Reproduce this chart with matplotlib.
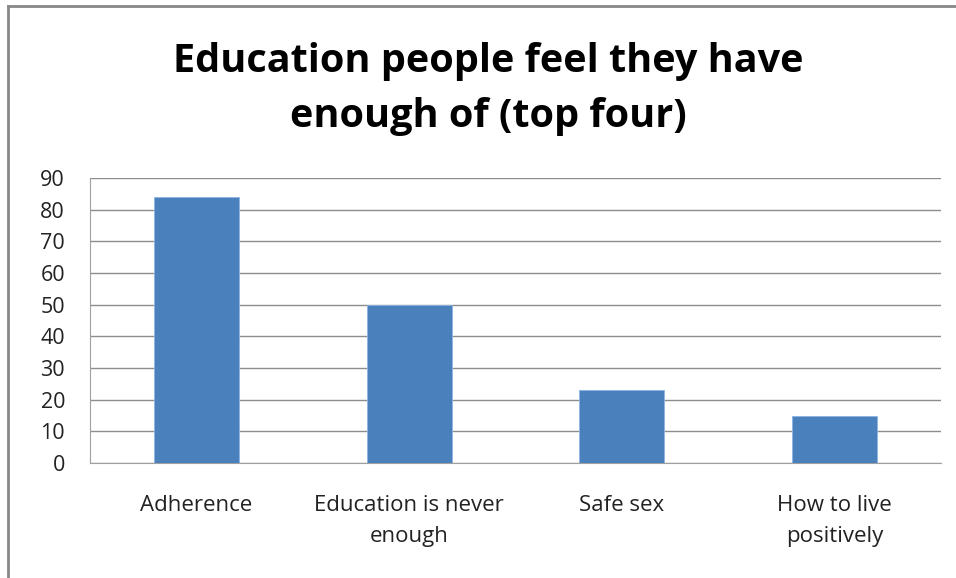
import matplotlib
matplotlib.use("Agg")
import matplotlib.pyplot as plt
from matplotlib.lines import Line2D

categories = ["Adherence", "Education is never\nenough", "Safe sex", "How to live\npositively"]
values = [84, 50, 23, 15]
yticks = [0, 10, 20, 30, 40, 50, 60, 70, 80, 90]
title = "Education people feel they have\nenough of (top four)"

plt.rcParams['font.family'] = ['Open Sans', 'DejaVu Sans']

W, H = 956, 578
fig = plt.figure(figsize=(W / 100, H / 100), dpi=100)
ax = fig.add_axes([90 / W, 1 - 463 / H, (941 - 90) / W, (463 - 178) / H])

x = range(len(categories))
ax.bar(x, values, width=0.4, color="#4A81BD", edgecolor="#8EB4E3", linewidth=0.6, zorder=3)
ax.set_xlim(-0.5, len(categories) - 0.5)
ax.set_ylim(0, 90)
ax.set_yticks(yticks)
ax.set_yticklabels([str(v) for v in yticks], fontsize=15.5, color="#222222")
ax.set_xticks(list(x))
ax.set_xticklabels(categories, fontsize=16, color="#222222", linespacing=1.6)
ax.tick_params(axis="x", length=0, pad=23)
ax.tick_params(axis="y", length=0, pad=18)
ax.yaxis.grid(True, color="#8C8C8C", linewidth=1.0, zorder=0)
for s in ["top", "right"]:
    ax.spines[s].set_visible(False)
ax.spines["left"].set_color("#A0A0A0")
ax.spines["bottom"].set_color("#A0A0A0")

fig.text(488 / W, 1 - 89 / H, title, ha="center", va="center", fontsize=28.5,
         fontweight="bold", linespacing=1.55, color="black")

# outer chart frame (top and left edges visible)
fig.add_artist(Line2D([8 / W, 1], [1 - 6 / H, 1 - 6 / H], transform=fig.transFigure, color="#888888", linewidth=2))
fig.add_artist(Line2D([8 / W, 8 / W], [0, 1 - 6 / H], transform=fig.transFigure, color="#888888", linewidth=2))

fig.savefig("out.png", dpi=100)
